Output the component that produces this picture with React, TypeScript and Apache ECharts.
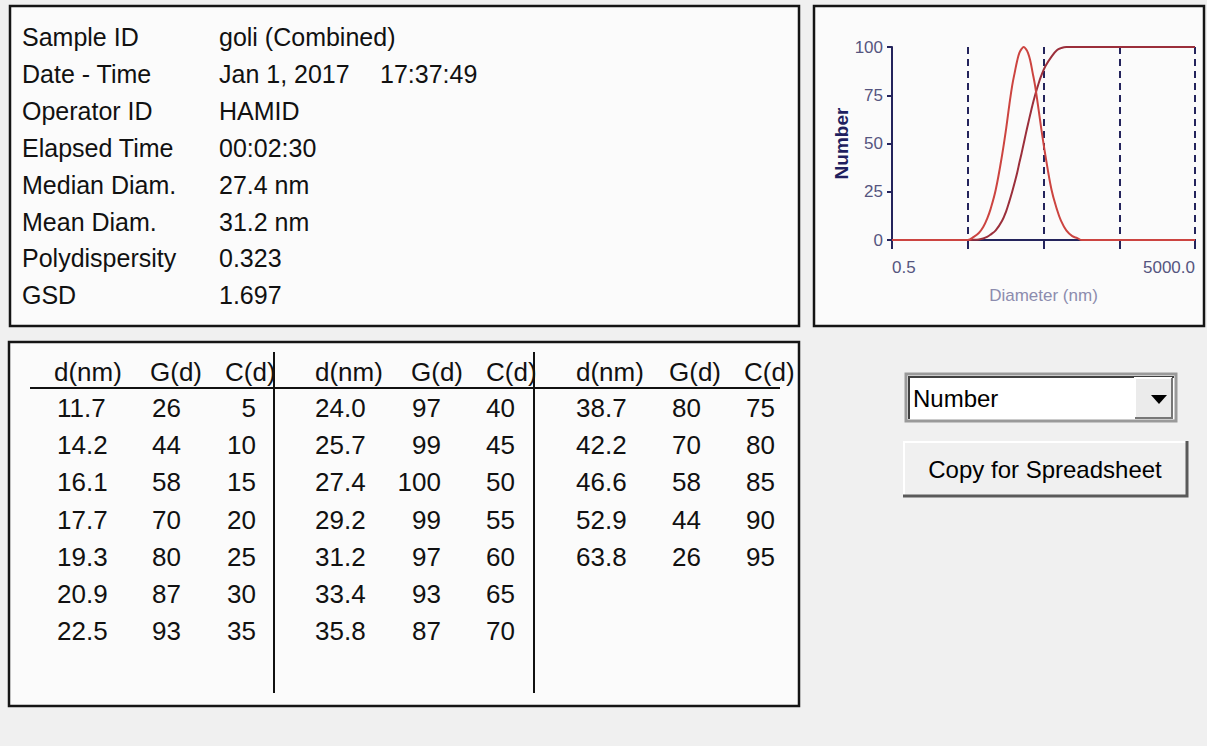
import React, { useEffect, useRef } from 'react';
import * as echarts from 'echarts';

// ---------- data ----------
const infoLabels = ['Sample ID', 'Date - Time', 'Operator ID', 'Elapsed Time', 'Median Diam.', 'Mean Diam.', 'Polydispersity', 'GSD'];
const infoValues = ['goli (Combined)', 'Jan 1, 2017', 'HAMID', '00:02:30', '27.4 nm', '31.2 nm', '0.323', '1.697'];
const timeValue = '17:37:49';

const tableHeaders = ['d(nm)', 'G(d)', 'C(d)'];
const tableD = [11.7, 14.2, 16.1, 17.7, 19.3, 20.9, 22.5, 24.0, 25.7, 27.4, 29.2, 31.2, 33.4, 35.8, 38.7, 42.2, 46.6, 52.9, 63.8];
const tableG = [26, 44, 58, 70, 80, 87, 93, 97, 99, 100, 99, 97, 93, 87, 80, 70, 58, 44, 26];
const tableC = [5, 10, 15, 20, 25, 30, 35, 40, 45, 50, 55, 60, 65, 70, 75, 80, 85, 90, 95];

// curve tails (outside the table's range)
const leftTailD = [0.5, 5, 6, 7, 8, 9, 10];
const leftTailG = [0, 0, 1.6, 3.6, 6.7, 11, 16];
const leftTailC = [0, 0, 0.1, 0.3, 0.8, 1.6, 2.8];
const rightTailD = [75, 85, 100, 120, 140, 160, 5000];
const rightTailG = [16, 10, 5, 2, 1, 0, 0];
const rightTailC = [98.3, 99.4, 100, 100, 100, 100, 100];

const xTickValues = [0.5, 5, 50, 500, 5000];
const xLabelValues = [0.5, 5000];
const xAxisName = 'Diameter (nm)';
const yAxisName = 'Number';
const dropdownText = 'Number';
const buttonText = 'Copy for Spreadsheet';

// ---------- styles ----------
const FONT = 'Arial, "Liberation Sans", sans-serif';
const NAVY = '#24245c';
const LABEL = '#55557f';

function buildGraphics() {
  const els: any[] = [];
  const panel = (x: number, y: number, w: number, h: number) => ({
    type: 'rect', z: -1, silent: true,
    shape: { x, y, width: w, height: h },
    style: { fill: '#fbfbfb', stroke: '#151515', lineWidth: 2.5 },
  });
  els.push(panel(10, 6, 789, 320));
  els.push(panel(814, 6, 390, 320));
  els.push(panel(9, 342, 790, 364));

  const text = (x: number, y: number, t: string, size: number, align = 'left', extra: any = {}) => ({
    type: 'text', z: 10, x, y,
    style: { text: t, font: `${size}px ${FONT}`, fill: '#111', align, verticalAlign: 'middle', ...extra },
  });

  // info panel
  infoLabels.forEach((l, i) => {
    const y = 37 + i * 36.9;
    els.push(text(22, y, l, 25));
    els.push(text(219, y, infoValues[i], 25));
  });
  els.push(text(380, 37 + 36.9, timeValue, 25));

  // table
  const hdrX = [[54, 150, 225], [315, 411, 486], [576, 669, 744]];
  const dLeft = [57, 315, 576];
  const gRight = [181, 441, 701];
  const cRight = [256, 515, 775];
  hdrX.forEach((xs) => xs.forEach((x, j) => els.push(text(x, 372, tableHeaders[j], 26))));
  tableD.forEach((d, i) => {
    const g = Math.floor(i / 7);
    const r = i % 7;
    const y = 408 + r * 37.2;
    els.push(text(dLeft[g], y, d.toFixed(1), 26));
    els.push(text(gRight[g], y, String(tableG[i]), 26, 'right'));
    els.push(text(cRight[g], y, String(tableC[i]), 26, 'right'));
  });
  els.push({ type: 'line', z: 11, shape: { x1: 30, y1: 388, x2: 780, y2: 388 }, style: { stroke: '#111', lineWidth: 2 } });
  els.push({ type: 'line', z: 11, shape: { x1: 274, y1: 352, x2: 274, y2: 693 }, style: { stroke: '#111', lineWidth: 2 } });
  els.push({ type: 'line', z: 11, shape: { x1: 534, y1: 352, x2: 534, y2: 693 }, style: { stroke: '#111', lineWidth: 2 } });

  // dropdown
  els.push({ type: 'rect', z: 1, shape: { x: 906, y: 374, width: 270, height: 47 }, style: { fill: '#ffffff', stroke: '#9a9a9a', lineWidth: 3 } });
  els.push({ type: 'polyline', z: 2, shape: { points: [[909, 419], [909, 377], [1174, 377]] }, style: { stroke: '#404040', lineWidth: 2, fill: null } });
  els.push({ type: 'rect', z: 2, shape: { x: 1135, y: 378, width: 37, height: 40 }, style: { fill: '#ebebeb' } });
  els.push({ type: 'polyline', z: 3, shape: { points: [[1135, 417], [1135, 378], [1172, 378]] }, style: { stroke: '#ffffff', lineWidth: 2, fill: null } });
  els.push({ type: 'polyline', z: 3, shape: { points: [[1135, 418], [1172, 418], [1172, 378]] }, style: { stroke: '#777777', lineWidth: 2, fill: null } });
  els.push({ type: 'polygon', z: 3, shape: { points: [[1151, 395], [1167, 395], [1159, 404]] }, style: { fill: '#000' } });
  els.push(text(913, 398, dropdownText, 24, 'left', { fill: '#000' }));

  // button
  els.push({ type: 'rect', z: 1, shape: { x: 903, y: 441, width: 284, height: 55 }, style: { fill: '#f0f0f0' } });
  els.push({ type: 'polyline', z: 2, shape: { points: [[904, 495], [904, 442], [1186, 442]] }, style: { stroke: '#ffffff', lineWidth: 2, fill: null } });
  els.push({ type: 'polyline', z: 2, shape: { points: [[903, 496], [1187, 496], [1187, 441]] }, style: { stroke: '#5a5a5a', lineWidth: 3, fill: null } });
  els.push(text(1045, 469, buttonText, 24, 'center', { fill: '#000' }));
  return els;
}

export default function App() {
  const ref = useRef<HTMLDivElement>(null);
  useEffect(() => {
    if (!ref.current) return;
    const chart = echarts.init(ref.current, undefined, { renderer: 'svg' });
    const allD = [...leftTailD, ...tableD, ...rightTailD];
    const allG = [...leftTailG, ...tableG, ...rightTailG];
    const allC = [...leftTailC, ...tableC, ...rightTailC];
    const distData = allD.map((d, i) => [d, allG[i]]);
    const cumData = allD.map((d, i) => [d, allC[i]]);

    chart.setOption({
      animation: false,
      backgroundColor: '#f0f0f0',
      graphic: { elements: buildGraphics() },
      grid: { left: 892, top: 47, width: 303, height: 193 },
      xAxis: {
        type: 'log', logBase: 10, min: 0.5, max: 5000, z: 3,
        name: xAxisName, nameLocation: 'middle', nameGap: 47,
        nameTextStyle: { color: '#8c8cae', fontSize: 17, fontFamily: FONT },
        axisLine: { show: true, lineStyle: { color: NAVY, width: 2 } },
        axisTick: { show: true, customValues: xTickValues, length: 9, lineStyle: { color: NAVY, width: 2 } },
        axisLabel: {
          customValues: xLabelValues, margin: 19, color: LABEL, fontSize: 17, fontFamily: FONT,
          alignMinLabel: 'left', alignMaxLabel: 'right',
          formatter: (v: number) => v.toFixed(1),
        },
        splitLine: { show: true, lineStyle: { color: NAVY, width: 2, type: [7, 5] } },
        minorTick: { show: false }, minorSplitLine: { show: false },
      },
      yAxis: {
        type: 'value', min: 0, max: 100, interval: 25, z: 3,
        name: yAxisName, nameLocation: 'middle', nameGap: 40, nameRotate: 90,
        nameTextStyle: { color: '#1f1f5f', fontSize: 19, fontWeight: 'bold', fontFamily: FONT },
        axisLine: { show: true, onZero: false, lineStyle: { color: NAVY, width: 2 } },
        axisTick: { show: true, length: 5, lineStyle: { color: NAVY, width: 2 } },
        axisLabel: { margin: 9, color: LABEL, fontSize: 17, fontFamily: FONT },
        splitLine: { show: false },
      },
      series: [
        {
          type: 'line', name: 'C(d)', data: cumData, z: 4, smooth: 0.4, symbol: 'none',
          lineStyle: { color: '#9b2f3b', width: 2 },
        },
        {
          type: 'line', name: 'G(d)', data: distData, z: 5, smooth: 0.4, symbol: 'none',
          lineStyle: { color: '#cc4440', width: 2 },
        },
      ],
    });
    return () => chart.dispose();
  }, []);
  return <div ref={ref} style={{ position: 'absolute', left: 0, top: 0, width: 1207, height: 746 }} />;
}
